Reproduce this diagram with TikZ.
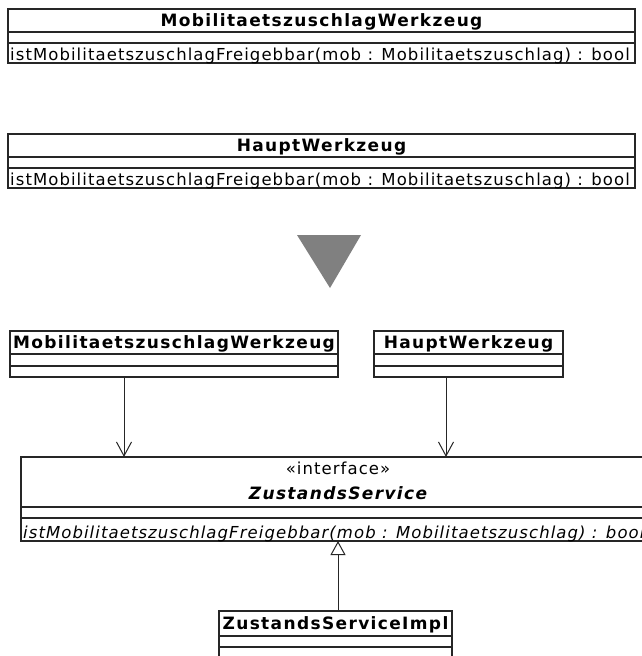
\documentclass[tikz,border=0pt]{standalone}
\usepackage{fontspec}
\setmainfont{DejaVu Sans}[LetterSpace=6.5, BoldFeatures={LetterSpace=8}, BoldItalicFeatures={LetterSpace=8}]
\usetikzlibrary{arrows.meta}
\begin{document}
\begin{tikzpicture}[x=1pt,y=-1pt,
  box/.style={draw=black!85, line width=1.1pt, anchor=north west, inner sep=0pt, outer sep=0pt},
  sep/.style={draw=black!85, line width=1.1pt},
  ttl/.style={anchor=base, inner sep=0pt, font=\fontsize{17}{20}\selectfont\bfseries},
  txt/.style={anchor=base west, inner sep=0pt, font=\fontsize{16.5}{20}\selectfont},
  dep/.style={draw=black!85, line width=1pt, -{Straight Barb[length=14pt,width=15pt,line width=1pt]}},
  gen/.style={draw=black!85, line width=1pt, -{Triangle[open,length=14pt,width=15pt,line width=1pt,fill=white]}}
]
\fill[white] (0,0) rectangle (642,656);
\useasboundingbox (0,0) rectangle (642,656);

% top box 1
\node[box, minimum width=627pt, minimum height=54pt] (mzwA) at (8,9) {};
\draw[sep] ([yshift=-23pt]mzwA.north west) -- ([yshift=-23pt]mzwA.north east);
\draw[sep] ([yshift=-34pt]mzwA.north west) -- ([yshift=-34pt]mzwA.north east);
\node[ttl] (mzwAt) at ([yshift=-17.5pt]mzwA.north) {MobilitaetszuschlagWerkzeug};
\node[txt] (mzwAm) at ([xshift=2pt,yshift=-51.5pt]mzwA.north west) {istMobilitaetszuschlagFreigebbar(mob : Mobilitaetszuschlag) : bool};

% top box 2
\node[box, minimum width=627pt, minimum height=54pt] (hwA) at (8,134) {};
\draw[sep] ([yshift=-23pt]hwA.north west) -- ([yshift=-23pt]hwA.north east);
\draw[sep] ([yshift=-34pt]hwA.north west) -- ([yshift=-34pt]hwA.north east);
\node[ttl] (hwAt) at ([yshift=-17.5pt]hwA.north) {HauptWerkzeug};
\node[txt] (hwAm) at ([xshift=2pt,yshift=-51.5pt]hwA.north west) {istMobilitaetszuschlagFreigebbar(mob : Mobilitaetszuschlag) : bool};

% big gray triangle
\fill[black!50] (297,235) -- (361,235) -- (330,288) -- cycle;

% lower boxes
\node[box, minimum width=328pt, minimum height=46pt] (mzwB) at (10,331) {};
\draw[sep] ([yshift=-23pt]mzwB.north west) -- ([yshift=-23pt]mzwB.north east);
\draw[sep] ([yshift=-35pt]mzwB.north west) -- ([yshift=-35pt]mzwB.north east);
\node[ttl] (mzwBt) at ([yshift=-17.5pt]mzwB.north) {MobilitaetszuschlagWerkzeug};

\node[box, minimum width=189pt, minimum height=46pt] (hwB) at (374,331) {};
\draw[sep] ([yshift=-23pt]hwB.north west) -- ([yshift=-23pt]hwB.north east);
\draw[sep] ([yshift=-35pt]hwB.north west) -- ([yshift=-35pt]hwB.north east);
\node[ttl] (hwBt) at ([yshift=-17.5pt]hwB.north) {HauptWerkzeug};

% interface
\node[box, minimum width=634pt, minimum height=84pt] (iface) at (21,457) {};
\draw[sep] ([yshift=-50pt]iface.north west) -- ([yshift=-50pt]iface.north east);
\draw[sep] ([yshift=-61pt]iface.north west) -- ([yshift=-61pt]iface.north east);
\node[anchor=base, inner sep=0pt, font=\fontsize{16.5}{20}\selectfont] (ifst) at ([yshift=-17pt]iface.north) {«interface»};
\node[ttl, font=\fontsize{17}{20}\selectfont\bfseries\itshape] (ifnm) at ([yshift=-42pt]iface.north) {ZustandsService};
\node[txt, font=\fontsize{16.5}{20}\selectfont\itshape] (ifm) at ([xshift=2pt,yshift=-81pt]iface.north west) {istMobilitaetszuschlagFreigebbar(mob : Mobilitaetszuschlag) : bool};

% impl
\node[box, minimum width=233pt, minimum height=50pt] (impl) at (219,611) {};
\draw[sep] ([yshift=-25pt]impl.north west) -- ([yshift=-25pt]impl.north east);
\draw[sep] ([yshift=-36pt]impl.north west) -- ([yshift=-36pt]impl.north east);
\node[ttl] (implt) at ([yshift=-18.5pt]impl.north) {ZustandsServiceImpl};

% connectors
\path (mzwB.south west) ++(114pt,0pt) coordinate (a1);
\draw[dep] (a1) -- (a1 |- iface.north);
\path (hwB.south west) ++(72pt,0pt) coordinate (a2);
\draw[dep] (a2) -- (a2 |- iface.north);
\path (impl.north west) ++(119pt,0pt) coordinate (g1);
\draw[gen] (g1) -- (g1 |- iface.south);
\end{tikzpicture}
\end{document}
